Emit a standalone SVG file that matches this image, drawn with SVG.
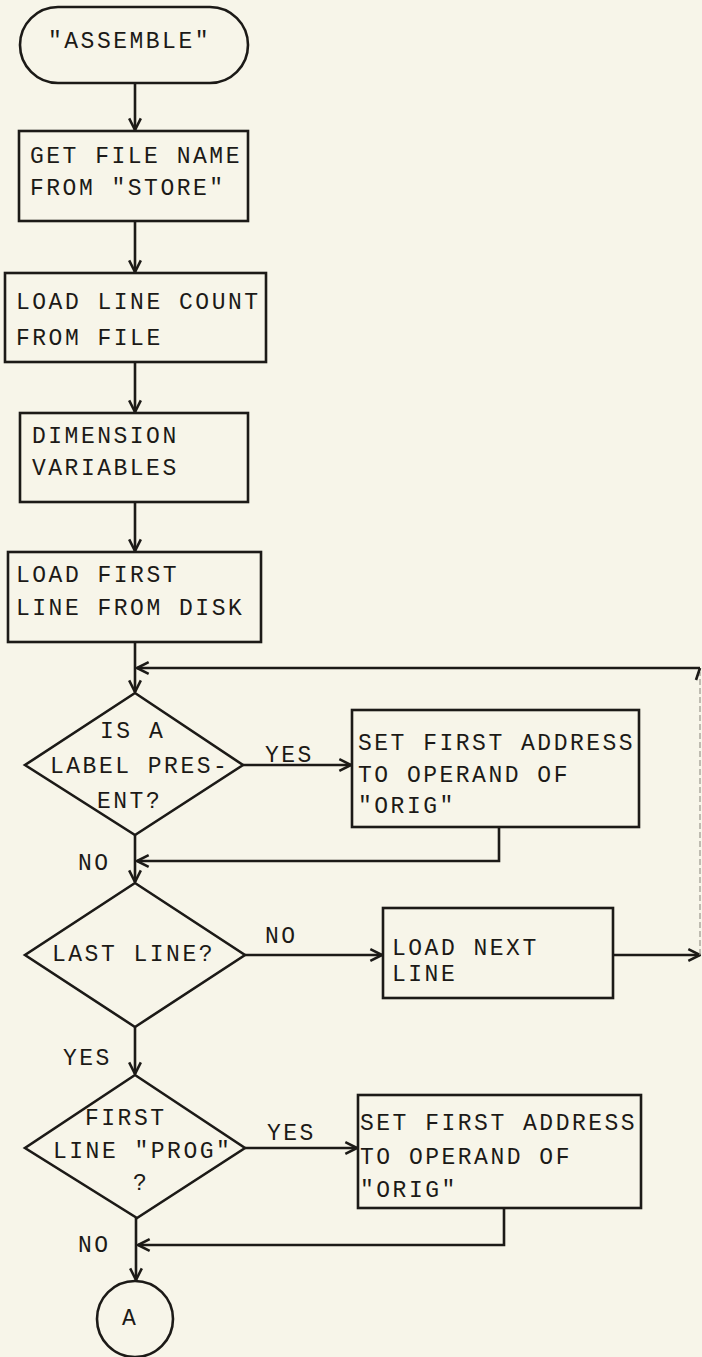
<svg xmlns="http://www.w3.org/2000/svg" width="702" height="1357" viewBox="0 0 702 1357">
<style>
  .bg { fill: #f7f5e9; }
  .shape { fill: none; stroke: #1c1a17; stroke-width: 2.6; }
  .conn { fill: none; stroke: #1c1a17; stroke-width: 2.6; }
  .faint { fill: none; stroke: #9a978e; stroke-width: 1.2; stroke-dasharray: 6 3; }
  text { font-family: "Liberation Mono", "DejaVu Sans Mono", monospace; font-size: 23px; letter-spacing: 2.5px; fill: #1c1a17; }
</style>
<defs>
  <marker id="arr" markerUnits="userSpaceOnUse" markerWidth="14" markerHeight="14" viewBox="0 0 12 12" refX="11" refY="6" orient="auto">
    <path d="M1,1 L11,6 L1,11" fill="none" stroke="#1c1a17" stroke-width="2.2"/>
  </marker>
</defs>
<rect class="bg" x="0" y="0" width="702" height="1357"/>

<g id="connectors">
  <line class="conn" x1="135" y1="83" x2="135" y2="130" marker-end="url(#arr)"/>
  <line class="conn" x1="135" y1="221" x2="135" y2="272" marker-end="url(#arr)"/>
  <line class="conn" x1="135" y1="362" x2="135" y2="412" marker-end="url(#arr)"/>
  <line class="conn" x1="135" y1="502" x2="135" y2="551" marker-end="url(#arr)"/>
  <line class="conn" x1="135" y1="642" x2="135" y2="692" marker-end="url(#arr)"/>
  <line class="conn" x1="613" y1="955" x2="700" y2="955" marker-end="url(#arr)"/>
  <line class="faint" x1="700" y1="955" x2="700" y2="672"/>
  <path class="conn" d="M696,680 L700,668" />
  <line class="conn" x1="700" y1="668" x2="137" y2="668" marker-end="url(#arr)"/>
  <line class="conn" x1="243" y1="765" x2="351" y2="765" marker-end="url(#arr)"/>
  <path class="conn" d="M499,827 L499,861 L137,861" marker-end="url(#arr)"/>
  <line class="conn" x1="135" y1="835" x2="135" y2="882" marker-end="url(#arr)"/>
  <line class="conn" x1="245" y1="955" x2="382" y2="955" marker-end="url(#arr)"/>
  <line class="conn" x1="135" y1="1027" x2="135" y2="1074" marker-end="url(#arr)"/>
  <line class="conn" x1="245" y1="1148" x2="357" y2="1148" marker-end="url(#arr)"/>
  <path class="conn" d="M504,1208 L504,1245 L138,1245" marker-end="url(#arr)"/>
  <line class="conn" x1="136" y1="1218" x2="136" y2="1280" marker-end="url(#arr)"/>
  <text x="265" y="762">YES</text>
  <text x="78" y="870">NO</text>
  <text x="265" y="943">NO</text>
  <text x="63" y="1065">YES</text>
  <text x="267" y="1140">YES</text>
  <text x="78" y="1252">NO</text>
</g>

<g id="start">
  <rect class="shape" x="20" y="7" width="228" height="76" rx="38" ry="38"/>
  <text x="48" y="48">"ASSEMBLE"</text>
</g>

<g id="get-file-name">
  <rect class="shape" x="19" y="131" width="229" height="90"/>
  <text x="30" y="163">GET FILE NAME</text>
  <text x="30" y="195">FROM "STORE"</text>
</g>

<g id="load-line-count">
  <rect class="shape" x="5" y="273" width="261" height="89"/>
  <text x="16" y="309">LOAD LINE COUNT</text>
  <text x="16" y="345">FROM FILE</text>
</g>

<g id="dimension-variables">
  <rect class="shape" x="20" y="413" width="228" height="89"/>
  <text x="32" y="443">DIMENSION</text>
  <text x="32" y="475">VARIABLES</text>
</g>

<g id="load-first-line">
  <rect class="shape" x="8" y="552" width="253" height="90"/>
  <text x="16" y="582">LOAD FIRST</text>
  <text x="16" y="615">LINE FROM DISK</text>
</g>

<g id="label-present">
  <polygon class="shape" points="135,693 243,765 135,835 25,765"/>
  <text x="100" y="738">IS A</text>
  <text x="50" y="773">LABEL PRES-</text>
  <text x="97" y="808">ENT?</text>
</g>

<g id="set-first-address-1">
  <rect class="shape" x="352" y="710" width="287" height="117"/>
  <text x="358" y="750">SET FIRST ADDRESS</text>
  <text x="358" y="782">TO OPERAND OF</text>
  <text x="358" y="813">"ORIG"</text>
</g>

<g id="last-line">
  <polygon class="shape" points="135,883 245,955 135,1027 25,955"/>
  <text x="52" y="961">LAST LINE?</text>
</g>

<g id="load-next-line">
  <rect class="shape" x="383" y="908" width="230" height="90"/>
  <text x="392" y="955">LOAD NEXT</text>
  <text x="392" y="981">LINE</text>
</g>

<g id="first-line-prog">
  <polygon class="shape" points="135,1075 245,1148 137,1218 25,1148"/>
  <text x="85" y="1125">FIRST</text>
  <text x="53" y="1158">LINE "PROG"</text>
  <text x="133" y="1190">?</text>
</g>

<g id="set-first-address-2">
  <rect class="shape" x="358" y="1095" width="283" height="113"/>
  <text x="360" y="1130">SET FIRST ADDRESS</text>
  <text x="360" y="1164">TO OPERAND OF</text>
  <text x="360" y="1197">"ORIG"</text>
</g>

<g id="connector-a">
  <ellipse class="shape" cx="135" cy="1319" rx="38" ry="38"/>
  <text x="122" y="1325">A</text>
</g>
</svg>
